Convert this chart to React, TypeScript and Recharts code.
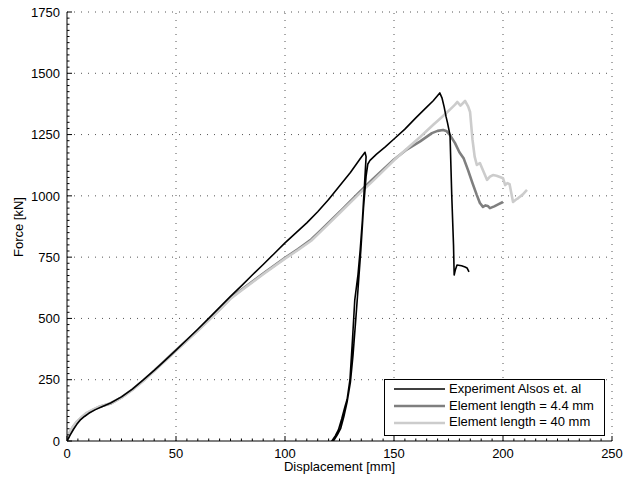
import { LineChart, Line, XAxis, YAxis, ReferenceLine, Legend } from 'recharts';

// Experiment Alsos et. al (load, unload to ~122 mm, reload, fracture)
const expX = [0, 1.5, 3, 4.5, 6, 8, 10, 13, 16, 20, 25, 30, 35, 40, 45, 50, 55, 60, 65, 70, 75, 80, 85, 90, 95, 100, 105, 110, 115, 120, 125, 130, 134.4, 136.7, 137.2, 136.5, 135.5, 134.5, 133.5, 132, 131, 129.8, 128.5, 127.5, 126, 124.5, 123, 121.5, 122.2, 124, 125.5, 127, 128.5, 130, 131.2, 132.5, 133.5, 134.8, 136, 137.2, 138, 139, 142, 146, 150, 155, 160, 165, 168, 171, 172, 173, 173.9, 174.5, 175.7, 176.5, 177.3, 177.6, 178.2, 178.9, 181, 182.6, 183.5, 184.4];
const expY = [0, 25, 48, 68, 85, 100, 113, 128, 140, 155, 180, 212, 249, 288, 329, 371, 413, 456, 500, 545, 590, 633, 677, 720, 764, 808, 849, 890, 935, 985, 1040, 1095, 1150, 1178, 1160, 1050, 900, 780, 680, 575, 420, 250, 170, 140, 90, 45, 20, 0, 0, 25, 50, 100, 160, 240, 350, 500, 620, 780, 950, 1080, 1130, 1145, 1170, 1200, 1232, 1272, 1318, 1362, 1388, 1420, 1400, 1363, 1322, 1300, 1248, 1000, 800, 677, 700, 718, 715, 710, 706, 690];

// Element length = 4.4 mm
const el44X = [0, 1.4, 3, 4.6, 7, 9, 12, 15, 20, 25, 30, 35, 40, 50, 60, 70, 75, 80, 90, 100, 106, 112, 116, 120, 126, 134, 140, 150, 156, 162, 167.4, 170, 172.5, 174, 175.7, 178, 180, 182, 184, 186, 188, 189.4, 190.8, 192, 193, 194, 196, 198, 200];
const el44Y = [0, 37, 60, 78, 98, 113, 127, 140, 153, 178, 210, 247, 287, 370, 452, 537, 583, 617, 683, 747, 783, 822, 856, 891, 943, 1014, 1066, 1148, 1190, 1222, 1256, 1265, 1269, 1265, 1248, 1215, 1178, 1152, 1104, 1052, 1003, 971, 955, 961, 959, 950, 957, 966, 975];

// Element length = 40 mm
const el40X = [0, 1.4, 3, 4.6, 7, 9, 12, 15, 20, 25, 30, 35, 40, 50, 60, 70, 75, 80, 90, 100, 106, 112, 116, 120, 126, 134, 140, 150, 156, 162, 168, 172, 174, 176, 178, 179, 180.5, 182.6, 184, 184.9, 186, 187, 188, 189.4, 191, 192.7, 194, 195.4, 197, 198.6, 200, 201, 202, 203, 204.6, 206, 207, 209, 211];
const el40Y = [0, 40, 62, 80, 100, 115, 129, 141, 154, 177, 208, 245, 285, 368, 450, 535, 580, 614, 680, 744, 779, 817, 851, 886, 938, 1008, 1058, 1145, 1193, 1240, 1290, 1322, 1338, 1355, 1372, 1383, 1368, 1387, 1365, 1342, 1230, 1160, 1126, 1134, 1100, 1065, 1078, 1085, 1082, 1077, 1072, 1044, 1052, 1048, 975, 985, 991, 1005, 1024];

const xMajorTicks = [0, 50, 100, 150, 200, 250];
const yMajorTicks = [0, 250, 500, 750, 1000, 1250, 1500, 1750];

const toPoints = (xs: number[], ys: number[]) => xs.map((x, i) => ({ x, y: ys[i] }));

// minor ticks: 10 subdivisions per major step
const subdivide = (majors: number[]) => {
  const out: number[] = [];
  for (let i = 0; i < majors.length - 1; i++) {
    const step = (majors[i + 1] - majors[i]) / 10;
    for (let k = 0; k < 10; k++) out.push(majors[i] + k * step);
  }
  out.push(majors[majors.length - 1]);
  return out;
};

const FONT = '"Liberation Sans", Arial, Helvetica, sans-serif';

const series = [
  { key: 'el44', name: 'Element length = 4.4 mm', color: '#7f7f7f', width: 2.6, data: toPoints(el44X, el44Y) },
  { key: 'el40', name: 'Element length = 40 mm', color: '#cccccc', width: 2.6, data: toPoints(el40X, el40Y) },
  { key: 'exp', name: 'Experiment Alsos et. al', color: '#000000', width: 1.6, data: toPoints(expX, expY) },
];
const legendOrder = ['exp', 'el44', 'el40'];

const XTick = (props: any) => {
  const { x, y, payload } = props;
  const major = xMajorTicks.includes(payload.value);
  return (
    <g>
      <line x1={x} x2={x} y1={y} y2={y - (major ? 5 : 2.5)} stroke="#000" strokeWidth={1} />
      {major && (
        <text x={x} y={y + 12} dy="0.36em" textAnchor="middle" fontSize={13} fontFamily={FONT} fill="#000">
          {payload.value}
        </text>
      )}
    </g>
  );
};

const YTick = (props: any) => {
  const { x, y, payload } = props;
  const major = yMajorTicks.includes(payload.value);
  return (
    <g>
      <line x1={x} x2={x + (major ? 5 : 2.5)} y1={y} y2={y} stroke="#000" strokeWidth={1} />
      {major && (
        <text x={x - 7} y={y} dy="0.36em" textAnchor="end" fontSize={13} fontFamily={FONT} fill="#000">
          {payload.value}
        </text>
      )}
    </g>
  );
};

const LegendBox = () => (
  <div
    style={{
      width: 219,
      height: 54,
      border: '1.3px solid #000',
      background: '#fff',
      boxSizing: 'content-box',
      paddingTop: 1,
      fontFamily: FONT,
      fontSize: 13,
    }}
  >
    {legendOrder.map((k) => {
      const s = series.find((d) => d.key === k)!;
      return (
        <div key={k} style={{ display: 'flex', alignItems: 'center', height: 16.7, lineHeight: '16.7px' }}>
          <svg width={64} height={16} style={{ flex: 'none' }}>
            <line x1={9} x2={60} y1={8} y2={8} stroke={s.color} strokeWidth={s.width} />
          </svg>
          <span style={{ whiteSpace: 'nowrap' }}>{s.name}</span>
        </div>
      );
    })}
  </div>
);

export default function App() {
  const xTicks = subdivide(xMajorTicks);
  const yTicks = subdivide(yMajorTicks);
  return (
    <div style={{ position: 'fixed', left: 0, top: 0, width: 624, height: 482, background: '#fff' }}>
      <LineChart width={624} height={482} margin={{ top: 12, right: 12, left: 0, bottom: 0 }}>
        <XAxis
          type="number"
          dataKey="x"
          domain={[0, 250]}
          ticks={xTicks}
          interval={0}
          tick={<XTick />}
          tickLine={false}
          tickSize={0}
          tickMargin={0}
          height={41}
          stroke="#000"
          allowDataOverflow
        />
        <YAxis
          type="number"
          dataKey="y"
          domain={[0, 1750]}
          ticks={yTicks}
          interval={0}
          tick={<YTick />}
          tickLine={false}
          tickSize={0}
          tickMargin={0}
          width={67}
          stroke="#000"
          allowDataOverflow
        />
        {xMajorTicks.slice(1).map((v) => (
          <ReferenceLine key={'gx' + v} x={v} stroke="#555" strokeDasharray="1 6" strokeWidth={1} />
        ))}
        {yMajorTicks.slice(1).map((v) => (
          <ReferenceLine key={'gy' + v} y={v} stroke="#555" strokeDasharray="1 6" strokeWidth={1} />
        ))}
        {series.map((s) => (
          <Line
            key={s.key}
            data={s.data}
            dataKey="y"
            name={s.name}
            type="linear"
            stroke={s.color}
            strokeWidth={s.width}
            strokeLinejoin="round"
            dot={false}
            activeDot={false}
            isAnimationActive={false}
          />
        ))}
        <Legend
          layout="vertical"
          align="center"
          verticalAlign="middle"
          wrapperStyle={{ left: 384, top: 379, width: 222 }}
          content={() => <LegendBox />}
        />
      </LineChart>
      <div
        style={{
          position: 'absolute',
          left: 18,
          top: 226.5,
          transform: 'translate(-50%, -50%) rotate(-90deg)',
          fontFamily: FONT,
          fontSize: 13,
          whiteSpace: 'nowrap',
        }}
      >
        Force [kN]
      </div>
      <div
        style={{
          position: 'absolute',
          left: 339.5,
          top: 466,
          transform: 'translate(-50%, -50%)',
          fontFamily: FONT,
          fontSize: 13,
          whiteSpace: 'nowrap',
        }}
      >
        Displacement [mm]
      </div>
    </div>
  );
}
